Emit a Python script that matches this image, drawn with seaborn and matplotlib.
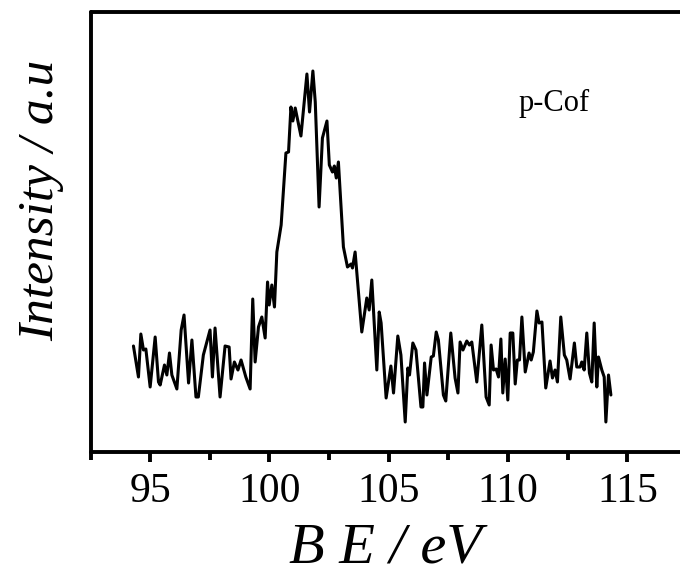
import pandas as pd
import matplotlib
matplotlib.use('Agg')
import matplotlib.pyplot as plt
from matplotlib.ticker import MultipleLocator
import seaborn as sns

# Binding energy (eV)
be = [
    94.30, 94.51, 94.61, 94.72, 94.82, 95.00, 95.21, 95.35, 95.42, 95.60,
    95.70, 95.81, 95.91, 96.12, 96.30, 96.42, 96.61, 96.75, 96.92, 97.02,
    97.23, 97.51, 97.61, 97.72, 97.93, 98.14, 98.31, 98.39, 98.53, 98.68,
    98.81, 99.01, 99.19,
    99.30, 99.40, 99.54, 99.68, 99.82, 99.92, 99.99, 100.10, 100.21, 100.31,
    100.49, 100.69, 100.80, 100.90, 100.98, 101.08, 101.32, 101.57, 101.68, 101.82,
    101.92, 102.08, 102.22, 102.41, 102.51, 102.64, 102.72, 102.80, 102.89, 103.10,
    103.27, 103.42, 103.48, 103.59,
    103.87, 104.08, 104.18, 104.29, 104.50, 104.60, 104.68, 104.89, 105.09, 105.20,
    105.38, 105.51, 105.69, 105.80, 105.87, 106.01, 106.14, 106.35, 106.43, 106.50,
    106.60, 106.78, 106.87, 106.99, 107.08, 107.29, 107.39, 107.60, 107.78, 107.90,
    107.99, 108.11, 108.27, 108.38, 108.48, 108.69, 108.90, 109.08, 109.21, 109.29,
    109.39, 109.50, 109.60, 109.70, 109.78, 109.88, 109.99, 110.09, 110.20, 110.30,
    110.39, 110.48, 110.58, 110.72, 110.88, 110.97, 111.06, 111.21, 111.30, 111.42,
    111.58, 111.76, 111.86, 111.97, 112.07, 112.21, 112.36, 112.46, 112.60, 112.78,
    112.88, 113.02, 113.09, 113.19, 113.30, 113.41, 113.51, 113.61, 113.72, 113.79,
    113.93, 114.03, 114.10, 114.21, 114.31,
]

# Intensity (arbitrary units)
intensity = [
    106, 75, 118, 102, 103, 65, 115, 70, 67, 87,
    77, 99, 77, 63, 122, 137, 69, 112, 55, 55,
    97, 122, 75, 124, 55, 106, 105, 73, 90, 82,
    92, 75, 63,
    153, 90, 125, 135, 114, 170, 147, 167, 145, 200,
    227, 299, 300, 345, 331, 344, 316, 378, 340, 381,
    350, 245, 314, 331, 287, 280, 286, 274, 290, 205,
    185, 188, 184, 200,
    120, 154, 142, 172, 82, 140, 129, 54, 86, 59,
    116, 97, 30, 84, 77, 109, 102, 45, 45, 89,
    57, 95, 96, 120, 112, 57, 51, 119, 74, 59,
    110, 102, 111, 107, 110, 70, 127, 55, 47, 107,
    82, 83, 75, 113, 59, 93, 52, 119, 119, 68,
    92, 92, 135, 80, 99, 92, 100, 141, 129, 130,
    64, 91, 74, 82, 70, 135, 97, 92, 73, 109,
    85, 85, 90, 82, 119, 79, 70, 129, 65, 95,
    82, 75, 30, 77, 57,
]

x_ticks = [95, 100, 105, 110, 115]
sample_label = 'p-Cof'

df = pd.DataFrame({'BE': be, 'Intensity': intensity})

sns.set_style('ticks')
plt.rcParams['font.family'] = ['Liberation Serif', 'DejaVu Serif']
plt.rcParams['text.color'] = 'black'
plt.rcParams['axes.labelcolor'] = 'black'

fig = plt.figure(figsize=(6.8, 5.78), dpi=100)
ax = fig.add_axes([90.5 / 680, 126 / 578, 589.5 / 680, 440 / 578])

sns.lineplot(data=df, x='BE', y='Intensity', ax=ax, color='black',
             linewidth=2.2, estimator=None, sort=False)

ax.set_xlim(92.5, 92.5 + 589.5 / 23.86)
ax.set_ylim(0, 440)
ax.set_xticks(x_ticks)
ax.set_xticklabels([str(t) for t in x_ticks])
ax.xaxis.set_minor_locator(MultipleLocator(2.5))
ax.set_yticks([])

for side in ['left', 'bottom', 'top']:
    ax.spines[side].set_linewidth(2.8)
    ax.spines[side].set_color('black')
    ax.spines[side].set_capstyle('round')
ax.spines['right'].set_visible(False)

ax.tick_params(axis='x', which='major', direction='out', length=7, width=2.8,
               labelsize=30, pad=8, colors='black')
ax.tick_params(axis='x', which='minor', direction='out', length=6, width=2.8,
               colors='black')

ax.set_xlabel('B E / eV', fontsize=42, fontstyle='italic', color='black')
ax.set_ylabel('Intensity / a.u', fontsize=37, fontstyle='italic', color='black')
ax.xaxis.set_label_coords(0.5, -0.16)
ax.yaxis.set_label_coords(-0.045, 0.573)

ax.text(111.93, 349, sample_label, fontsize=22, ha='center', va='center',
        color='black')

fig.savefig('out.png', dpi=100)
plt.close(fig)
